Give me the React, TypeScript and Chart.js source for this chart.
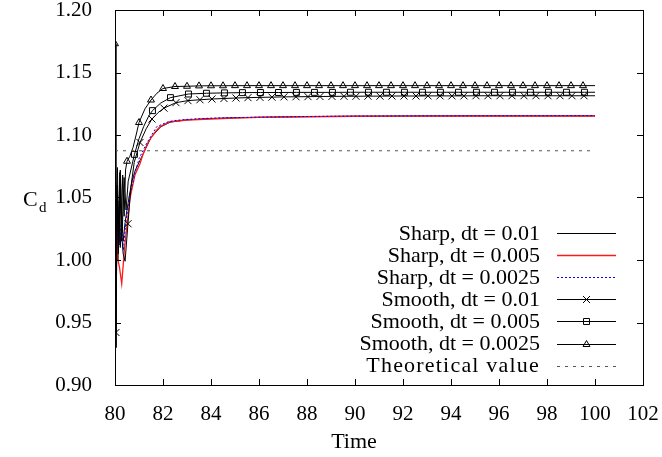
import React, { useEffect, useRef } from "react";
import { Chart, registerables } from "chart.js";
Chart.register(...registerables);

// ---------- data ----------
const sharp01T = [80, 80.03, 80.07, 80.12, 80.17, 80.22, 80.28, 80.34, 80.42, 80.5, 80.6, 80.72, 80.85, 81, 81.2, 81.5, 81.9, 82.3, 83, 84, 85, 86, 88, 90, 92, 95, 100];
const sharp01V = [1.062, 1.005, 1.048, 1.0, 1.04, 1.01, 1.035, 1.015, 1.03, 1.04, 1.052, 1.064, 1.072, 1.078, 1.086, 1.098, 1.1065, 1.1103, 1.1121, 1.1132, 1.1138, 1.1142, 1.1147, 1.115, 1.1152, 1.1153, 1.1153];

const sharp005T = [80, 80.04, 80.08, 80.12, 80.18, 80.28, 80.4, 80.5, 80.63, 80.83, 81.04, 81.18, 81.35, 81.53, 81.7, 81.88, 82.29, 82.99, 83.96, 85, 86, 88, 90, 92, 95, 100];
const sharp005V = [1.04, 1.0, 1.03, 1.0, 0.995, 0.981, 1.01, 1.028, 1.05, 1.068, 1.077, 1.0853, 1.093, 1.0987, 1.103, 1.1067, 1.1106, 1.112, 1.1128, 1.1136, 1.1141, 1.1146, 1.115, 1.1151, 1.1152, 1.1152];

const sharp0025T = [80, 80.07, 80.12, 80.18, 80.26, 80.35, 80.45, 80.6, 80.83, 81.0, 81.32, 81.74, 82.22, 82.6, 83, 84, 85, 86, 88, 90, 92, 95, 100];
const sharp0025V = [1.08, 1.008, 1.045, 1.012, 1.03, 1.008, 1.03, 1.05, 1.0694, 1.081, 1.0934, 1.1067, 1.1106, 1.1118, 1.1125, 1.1135, 1.1139, 1.1143, 1.1148, 1.1152, 1.1153, 1.1154, 1.1155];

const smooth01T = [80.04, 80.1, 80.16, 80.22, 80.28, 80.34, 80.42, 80.54, 80.66, 80.8, 81.04, 81.3, 81.54, 81.8, 82.04, 82.54, 83.04, 83.54, 84.04, 84.54, 85.04, 85.54, 86.04, 86.54, 87.04, 87.54, 88.04, 88.54, 89.04, 89.54, 90.04, 90.54, 91.04, 91.54, 92.04, 92.54, 93.04, 93.54, 94.04, 94.54, 95.04, 95.54, 96.04, 96.54, 97.04, 97.54, 98.04, 98.54, 99.04, 99.54, 100];
const smooth01V = [0.942, 1.06, 1.015, 1.072, 1.02, 1.005, 0.999, 1.029, 1.058, 1.078, 1.094, 1.105, 1.1128, 1.118, 1.1215, 1.1259, 1.1275, 1.1282, 1.1288, 1.1292, 1.1296, 1.1299, 1.1301, 1.1303, 1.1305, 1.1306, 1.1307, 1.1308, 1.1309, 1.131, 1.131, 1.1311, 1.1311, 1.1312, 1.1312, 1.1312, 1.1313, 1.1313, 1.1313, 1.1313, 1.1314, 1.1314, 1.1314, 1.1314, 1.1314, 1.1314, 1.1314, 1.1314, 1.1314, 1.1314, 1.1314];

const smooth005T = [80.06, 80.1, 80.16, 80.23, 80.3, 80.38, 80.46, 80.55, 80.66, 80.81, 81.0, 81.2, 81.4, 81.56, 81.9, 82.31, 83.06, 83.81, 84.56, 85.31, 86.06, 86.81, 87.56, 88.31, 89.06, 89.81, 90.56, 91.31, 92.06, 92.81, 93.56, 94.31, 95.06, 95.81, 96.56, 97.31, 98.06, 98.81, 99.56, 100];
const smooth005V = [1.044, 1.074, 1.012, 1.068, 1.022, 1.066, 1.04, 1.063, 1.072, 1.0845, 1.097, 1.107, 1.115, 1.1195, 1.1255, 1.1299, 1.1328, 1.1334, 1.1337, 1.1339, 1.134, 1.134, 1.1341, 1.1341, 1.1341, 1.1342, 1.1342, 1.1342, 1.1342, 1.1342, 1.1342, 1.1342, 1.1342, 1.1342, 1.1342, 1.1342, 1.1342, 1.1342, 1.1342, 1.1342];

const smooth0025T = [80, 80.04, 80.09, 80.14, 80.2, 80.26, 80.32, 80.38, 80.44, 80.5, 80.62, 80.75, 80.88, 81, 81.25, 81.5, 81.75, 82, 82.5, 83, 83.5, 84, 84.5, 85, 85.5, 86, 86.5, 87, 87.5, 88, 88.5, 89, 89.5, 90, 90.5, 91, 91.5, 92, 92.5, 93, 93.5, 94, 94.5, 95, 95.5, 96, 96.5, 97, 97.5, 98, 98.5, 99, 99.5, 100];
const smooth0025V = [1.173, 0.93, 1.055, 1.005, 1.07, 1.015, 1.068, 1.035, 1.072, 1.079, 1.083, 1.09, 1.1, 1.11, 1.121, 1.128, 1.1335, 1.1372, 1.1388, 1.139, 1.1393, 1.1394, 1.1394, 1.1395, 1.1395, 1.1395, 1.1395, 1.1395, 1.1395, 1.1395, 1.1395, 1.1395, 1.1395, 1.1395, 1.1395, 1.1395, 1.1395, 1.1395, 1.1395, 1.1395, 1.1395, 1.1395, 1.1395, 1.1395, 1.1395, 1.1395, 1.1395, 1.1395, 1.1395, 1.1395, 1.1395, 1.1395, 1.1395, 1.1395];

const theoryT = [80, 100];
const theoryV = [1.0874, 1.0874];

const xTicks = [80, 82, 84, 86, 88, 90, 92, 94, 96, 98, 100, 102];
const yTicks = [0.9, 0.95, 1.0, 1.05, 1.1, 1.15, 1.2];

const labels = [
  "Sharp, dt = 0.01",
  "Sharp, dt = 0.005",
  "Sharp, dt = 0.0025",
  "Smooth, dt = 0.01",
  "Smooth, dt = 0.005",
  "Smooth, dt = 0.0025",
  "Theoretical value",
];

// ---------- helpers ----------
const FONT = "'Liberation Serif', 'Times New Roman', serif";
const pts = (t: number[], v: number[]) => t.map((x, i) => ({ x, y: v[i] }));
const markerAt = (start: number, step: number, last: number, r: number) => (ctx: any) => {
  const x = ctx.raw ? ctx.raw.x : null;
  if (x == null) return 0;
  const k = (x - start) / step;
  return Math.abs(k - Math.round(k)) < 1e-3 && x <= last + 1e-6 ? r : 0;
};

function drawMarker(ctx: CanvasRenderingContext2D, style: string, x: number, y: number) {
  ctx.beginPath();
  if (style === "crossRot") {
    const d = 3.5;
    ctx.moveTo(x - d, y - d); ctx.lineTo(x + d, y + d);
    ctx.moveTo(x - d, y + d); ctx.lineTo(x + d, y - d);
  } else if (style === "rect") {
    ctx.rect(x - 3, y - 3, 6, 6);
  } else if (style === "triangle") {
    const r = 4;
    ctx.moveTo(x, y - r);
    ctx.lineTo(x + 0.866 * r, y + 0.5 * r);
    ctx.lineTo(x - 0.866 * r, y + 0.5 * r);
    ctx.closePath();
  }
  ctx.stroke();
}

const framePlugin = {
  id: "gnuFrame",
  afterDraw(chart: any) {
    const { ctx, chartArea: a, scales } = chart;
    const xs = scales.x, ys = scales.y;
    ctx.save();
    ctx.strokeStyle = "#000";
    ctx.lineWidth = 1;
    // frame
    ctx.strokeRect(Math.round(a.left) + 0.5, Math.round(a.top) + 0.5, Math.round(a.right - a.left), Math.round(a.bottom - a.top));
    // ticks inward on all sides
    ctx.beginPath();
    const tl = 6;
    xTicks.forEach((v) => {
      const px = Math.round(xs.getPixelForValue(v)) + 0.5;
      ctx.moveTo(px, a.bottom); ctx.lineTo(px, a.bottom - tl);
      ctx.moveTo(px, a.top); ctx.lineTo(px, a.top + tl);
    });
    yTicks.forEach((v) => {
      const py = Math.round(ys.getPixelForValue(v)) + 0.5;
      ctx.moveTo(a.left, py); ctx.lineTo(a.left + tl, py);
      ctx.moveTo(a.right, py); ctx.lineTo(a.right - tl, py);
    });
    ctx.stroke();

    // axis titles
    ctx.fillStyle = "#000";
    ctx.textBaseline = "alphabetic";
    ctx.textAlign = "center";
    ctx.font = `22px ${FONT}`;
    ctx.fillText("Time", 354, 448);
    ctx.textAlign = "left";
    ctx.fillText("C", 23, 206);
    ctx.font = `15px ${FONT}`;
    ctx.fillText("d", 39, 212);

    // legend
    ctx.font = `22px ${FONT}`;
    ctx.textAlign = "right";
    ctx.textBaseline = "middle";
    const ds = chart.data.datasets;
    ds.forEach((d: any, i: number) => {
      const y = 233 + i * 22.1;
      ctx.save();
      ctx.fillStyle = "#000";
      if (d.legendSpacing) (ctx as any).letterSpacing = d.legendSpacing;
      ctx.fillText(d.label, 540, y + 1);
      ctx.restore();
      ctx.save();
      ctx.strokeStyle = d.borderColor;
      ctx.lineWidth = d.borderWidth;
      ctx.setLineDash(d.borderDash || []);
      ctx.beginPath();
      const ly = Math.round(y) + 0.5;
      ctx.moveTo(557, ly); ctx.lineTo(616, ly);
      ctx.stroke();
      ctx.setLineDash([]);
      if (d.legendMarker) {
        ctx.lineWidth = 1;
        drawMarker(ctx, d.legendMarker, 586.5, ly);
      }
      ctx.restore();
    });
    ctx.restore();
  },
};

export default function App() {
  const ref = useRef<HTMLCanvasElement>(null);
  useEffect(() => {
    const common = { fill: false, tension: 0, pointRadius: 0, borderWidth: 1, pointHoverRadius: 0 };
    const chart = new Chart(ref.current!, {
      type: "line",
      data: {
        datasets: [
          { ...common, order: 7, label: labels[0], data: pts(sharp01T, sharp01V), borderColor: "#000" },
          { ...common, order: 6, label: labels[1], data: pts(sharp005T, sharp005V), borderColor: "#ff1a1a", borderWidth: 1.3 },
          { ...common, order: 5, label: labels[2], data: pts(sharp0025T, sharp0025V), borderColor: "#0000ff", borderDash: [2, 2] },
          {
            ...common, order: 4, label: labels[3], data: pts(smooth01T, smooth01V), borderColor: "#000",
            pointStyle: "crossRot", pointRadius: markerAt(80.04, 0.5, 99.6, 5), pointBorderColor: "#000",
            pointBackgroundColor: "rgba(0,0,0,0)", pointBorderWidth: 1, legendMarker: "crossRot",
          },
          {
            ...common, order: 3, label: labels[4], data: pts(smooth005T, smooth005V), borderColor: "#000",
            pointStyle: "rect", pointRadius: markerAt(80.06, 0.75, 99.6, 4.2), pointBorderColor: "#000",
            pointBackgroundColor: "rgba(0,0,0,0)", pointBorderWidth: 1, legendMarker: "rect",
          },
          {
            ...common, order: 2, label: labels[5], data: pts(smooth0025T, smooth0025V), borderColor: "#000",
            pointStyle: "triangle", pointRadius: markerAt(80, 0.5, 99.6, 4), pointBorderColor: "#000",
            pointBackgroundColor: "rgba(0,0,0,0)", pointBorderWidth: 1, legendMarker: "triangle",
          },
          { ...common, order: 1, label: labels[6], data: pts(theoryT, theoryV), borderColor: "#555", borderDash: [3, 5], legendSpacing: "1.2px" },
        ] as any,
      },
      options: {
        responsive: false,
        animation: false,
        events: [],
        layout: { padding: { left: 0, top: 10, right: 19, bottom: 0 } },
        plugins: { legend: { display: false }, tooltip: { enabled: false }, title: { display: false } },
        scales: {
          x: {
            type: "linear",
            min: 80,
            max: 102,
            grid: { display: false },
            border: { display: false },
            afterBuildTicks: (s: any) => { s.ticks = xTicks.map((v) => ({ value: v })); },
            afterFit: (s: any) => { s.height = 72; s.paddingLeft = 0; s.paddingRight = 0; },
            ticks: { color: "#000", font: { family: FONT, size: 21 }, padding: 9, maxRotation: 0, autoSkip: false, callback: (v: any) => String(v) },
          },
          y: {
            type: "linear",
            min: 0.9,
            max: 1.2,
            grid: { display: false },
            border: { display: false },
            afterBuildTicks: (s: any) => { s.ticks = yTicks.map((v) => ({ value: v })); },
            afterFit: (s: any) => { s.width = 115; s.paddingTop = 0; s.paddingBottom = 0; },
            ticks: { color: "#000", font: { family: FONT, size: 21 }, padding: 15, autoSkip: false, callback: (v: any) => Number(v).toFixed(2) },
          },
        },
      } as any,
      plugins: [framePlugin],
    });
    return () => chart.destroy();
  }, []);
  return (
    <div style={{ position: "fixed", left: 0, top: 0, width: 662, height: 457, background: "#fff" }}>
      <canvas ref={ref} width={662} height={457} style={{ width: 662, height: 457, display: "block" }} />
    </div>
  );
}
